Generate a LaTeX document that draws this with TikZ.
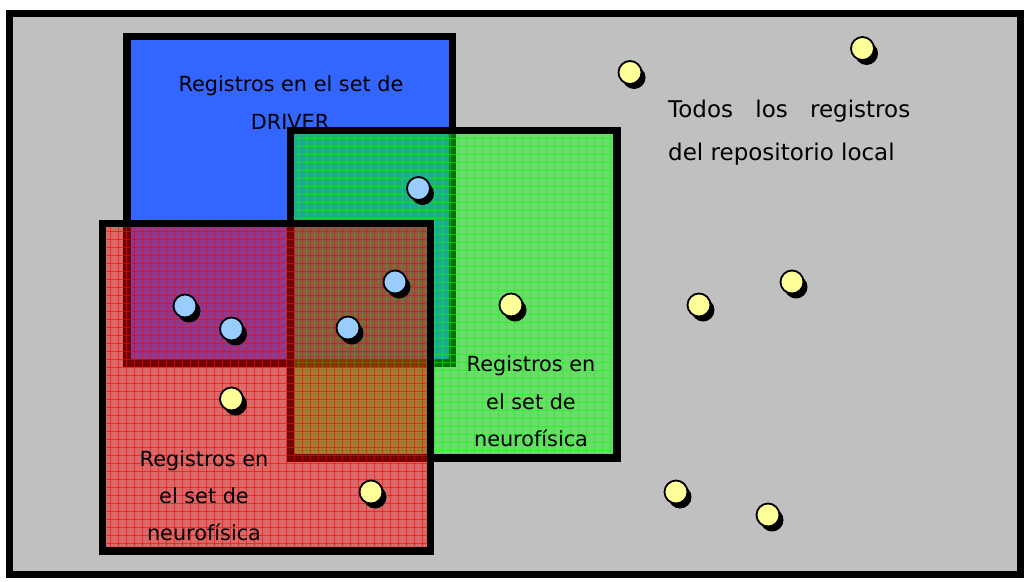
\documentclass[tikz,border=0pt]{standalone}
\usepackage{fontspec}
\setmainfont{DejaVu Sans}
\usetikzlibrary{shadows}
\definecolor{bgray}{HTML}{C0C0C0}
\definecolor{dblue}{HTML}{3366FF}
\definecolor{pyellow}{HTML}{FFFF99}
\definecolor{pblue}{HTML}{99CCFF}
\definecolor{gline}{HTML}{00FF00}
\definecolor{rline}{HTML}{FF0000}
\begin{document}
\begin{tikzpicture}[x=1pt,y=-1pt,
  frame/.style={line width=7pt, draw=black},
  setbox/.style={line width=7.5pt, draw=black},
  lbl/.style={font=\fontsize{20.8}{24}\selectfont, anchor=base, inner sep=0pt},
  big/.style={font=\fontsize{23}{27}\selectfont, anchor=base west, inner sep=0pt},
  dot/.style={circle, draw=black, line width=1.8pt, minimum size=23pt, inner sep=0pt,
    drop shadow={shadow xshift=4pt, shadow yshift=-5pt, opacity=1, fill=black}},
  ydot/.style={dot, fill=pyellow},
  bdot/.style={dot, fill=pblue},
  gridg/.style={gline, line width=0.8pt, opacity=0.5},
  gridr/.style={rline, line width=0.8pt, opacity=0.6}]
\useasboundingbox (0,0) rectangle (1024,581);
% outer frame
\fill[bgray] (9.5,13.5) rectangle (1020.5,574.5);
\draw[frame] (9.5,13.5) rectangle (1020.5,574.5);
% blue set
\fill[dblue] (126.8,36.5) rectangle (452.5,363);
\draw[setbox] (126.8,36.5) rectangle (452.5,363);
\node[lbl] (b1) at (291,91) {Registros en el set de};
\node[lbl] (b2) at (290,129) {DRIVER};
% green set
\begin{scope}
\clip (290.5,130.5) rectangle (617,458);
\fill[gline, fill opacity=0.45] (290.5,130.5) rectangle (617,458);
\foreach \x in {298,306,...,614} \draw[gridg] (\x,130.5) -- (\x,458);
\foreach \y in {138,146,...,456} \draw[gridg] (290.5,\y) -- (617,\y);
\end{scope}
\draw[setbox] (290.5,130.5) rectangle (617,458);
\node[lbl] (g1) at (531,371) {Registros en};
\node[lbl] (g2) at (531,409) {el set de};
\node[lbl] (g3) at (531,446) {neurofísica};
% red set
\begin{scope}
\clip (102.5,223.5) rectangle (430.5,551.2);
\fill[rline, fill opacity=0.45] (102.5,223.5) rectangle (430.5,551.2);
\foreach \x in {110,118,...,428} \draw[gridr] (\x,223.5) -- (\x,551.2);
\foreach \y in {231,239,...,549} \draw[gridr] (102.5,\y) -- (430.5,\y);
\end{scope}
\draw[setbox] (102.5,223.5) rectangle (430.5,551.2);
\node[lbl] (r1) at (204,466) {Registros en};
\node[lbl] (r2) at (204,503) {el set de};
\node[lbl] (r3) at (204,540) {neurofísica};
% repository text
\node[big] (t1) at (668,117) {\makebox[242pt][s]{Todos los registros}};
\node[big] (t2) at (668,160) {del repositorio local};
% records
\node[ydot] (y1) at (630,72.5) {};
\node[ydot] (y2) at (862.5,48.5) {};
\node[ydot] (y3) at (511,305) {};
\node[ydot] (y4) at (699,305) {};
\node[ydot] (y5) at (792,282) {};
\node[ydot] (y6) at (231.5,399) {};
\node[ydot] (y7) at (371,492) {};
\node[ydot] (y8) at (676,492) {};
\node[ydot] (y9) at (768,515) {};
\node[bdot] (c1) at (418.5,188.5) {};
\node[bdot] (c2) at (395,282) {};
\node[bdot] (c3) at (185,306) {};
\node[bdot] (c4) at (231.5,329) {};
\node[bdot] (c5) at (348,328) {};
\end{tikzpicture}
\end{document}
